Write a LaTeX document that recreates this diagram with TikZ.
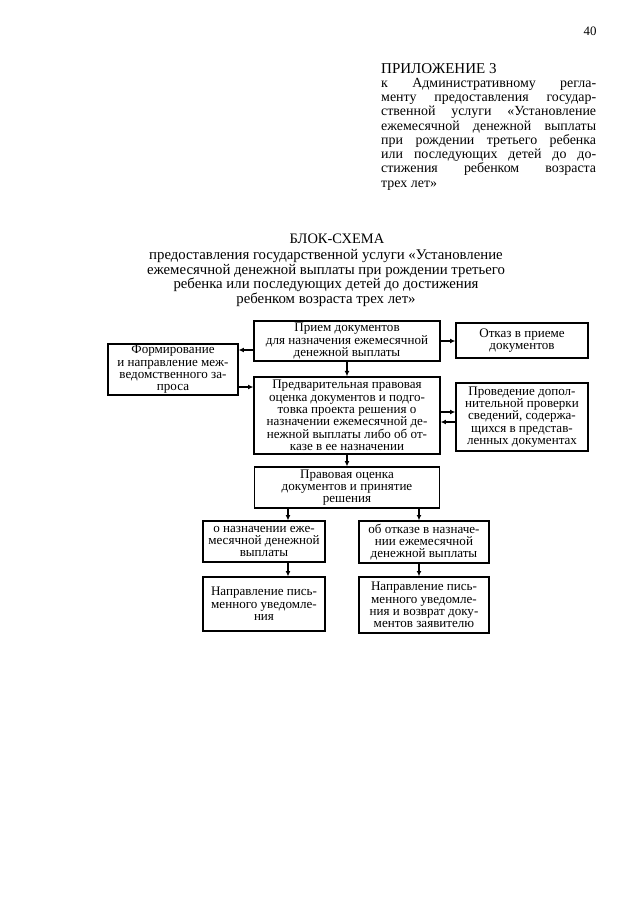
\documentclass[tikz,border=0pt]{standalone}
\usepackage{fontspec}
\setmainfont{Liberation Serif}
\usetikzlibrary{calc,arrows.meta}

\tikzset{
  blok/.style={draw, line width=1.1pt, align=center, inner sep=0.5pt,
    font=\fontsize{12.2}{11.5}\selectfont},
  strelka/.style={line width=1pt, -{Latex[length=5pt,width=4.5pt]}},
}

\begin{document}
\begin{tikzpicture}[x=0.328mm, y=-0.328mm]
  \useasboundingbox[fill=white] (0,0) rectangle (640,905);

  % header
  \node (nomer) at (590,31) {\fontsize{12}{13}\selectfont 40};
  \node[anchor=north west, inner sep=0pt, text width=70.5mm, align=justify,
    font=\fontsize{13}{13.3}\selectfont] (prilozh) at (381,63)
    {{\fontsize{14}{13.3}\selectfont ПРИЛОЖЕНИЕ 3}\\
     к Административному регла-\linebreak
     менту предоставления государ-\linebreak
     ственной услуги «Установление\linebreak
     ежемесячной денежной выплаты\linebreak
     при рождении третьего ребенка\linebreak
     или последующих детей до до-\linebreak
     стижения ребенком возраста\linebreak
     трех лет»};

  \node[font=\fontsize{13.5}{14}\selectfont] (zagol) at (337,239) {БЛОК-СХЕМА};
  \node[align=center, font=\fontsize{13.8}{13.7}\selectfont] (podzagol) at (326,278)
    {предоставления государственной услуги «Установление\\
     ежемесячной денежной выплаты при рождении третьего\\
     ребенка или последующих детей до достижения\\
     ребенком возраста трех лет»};

  % boxes
  \node[blok, minimum width=61.0mm, minimum height=13.1mm] (priem) at (347,341)
    {Прием документов\\для назначения ежемесячной\\денежной выплаты};
  \node[blok, minimum width=43.3mm, minimum height=11.5mm] (otkaz) at (522,340.5)
    {Отказ в приеме\\документов};
  \node[blok, minimum width=42.6mm, minimum height=16.7mm] (form) at (173,369.5)
    {Формирование\\и направление меж-\\ведомственного за-\\проса};
  \node[blok, minimum width=61.0mm, minimum height=25.3mm] (predv) at (347,415.5)
    {Предварительная правовая\\оценка документов и подго-\\товка проекта решения о\\назначении ежемесячной де-\\нежной выплаты либо об от-\\казе в ее назначении};
  \node[blok, minimum width=43.3mm, minimum height=22.3mm] (proved) at (522,417)
    {Проведение допол-\\нительной проверки\\сведений, содержа-\\щихся в представ-\\ленных документах};
  \node[blok, minimum width=60.7mm, minimum height=13.4mm] (prav) at (347,487.5)
    {Правовая оценка\\документов и принятие\\решения};
  \node[blok, minimum width=40.0mm, minimum height=13.4mm] (naznach) at (264,541.5)
    {о назначении еже-\\месячной денежной\\выплаты};
  \node[blok, minimum width=42.6mm, minimum height=13.8mm] (otkazN) at (424,542)
    {об отказе в назначе-\\нии ежемесячной\\денежной выплаты};
  \node[blok, minimum width=40.0mm, minimum height=17.7mm] (napr1) at (264,604)
    {Направление пись-\\менного уведомле-\\ния};
  \node[blok, minimum width=42.6mm, minimum height=18.4mm] (napr2) at (424,605)
    {Направление пись-\\менного уведомле-\\ния и возврат доку-\\ментов заявителю};

  % arrows
  \coordinate (vlevo) at ($(priem.west)+(0,9)$);
  \coordinate (vpravo) at ($(form.east)+(0,17.5)$);
  \coordinate (tuda) at ($(proved.west)+(0,-5)$);
  \coordinate (obratno) at ($(proved.west)+(0,5)$);
  \coordinate (la) at ($(naznach.north)+(24,0)$);
  \coordinate (ra) at ($(otkazN.north)+(-5,0)$);

  \draw[strelka] (priem) -- (predv);
  \draw[strelka] (priem.east) -- (otkaz.west |- priem.east);
  \draw[strelka] (vlevo) -- (form.east |- vlevo);
  \draw[strelka] (vpravo) -- (predv.west |- vpravo);
  \draw[strelka] (predv.east |- tuda) -- (tuda);
  \draw[strelka] (obratno) -- (predv.east |- obratno);
  \draw[strelka] (predv) -- (prav);
  \draw[strelka] (prav.south -| la) -- (la);
  \draw[strelka] (prav.south -| ra) -- (ra);
  \draw[strelka] (naznach.south -| la) -- (napr1.north -| la);
  \draw[strelka] (otkazN.south -| ra) -- (napr2.north -| ra);
\end{tikzpicture}
\end{document}
